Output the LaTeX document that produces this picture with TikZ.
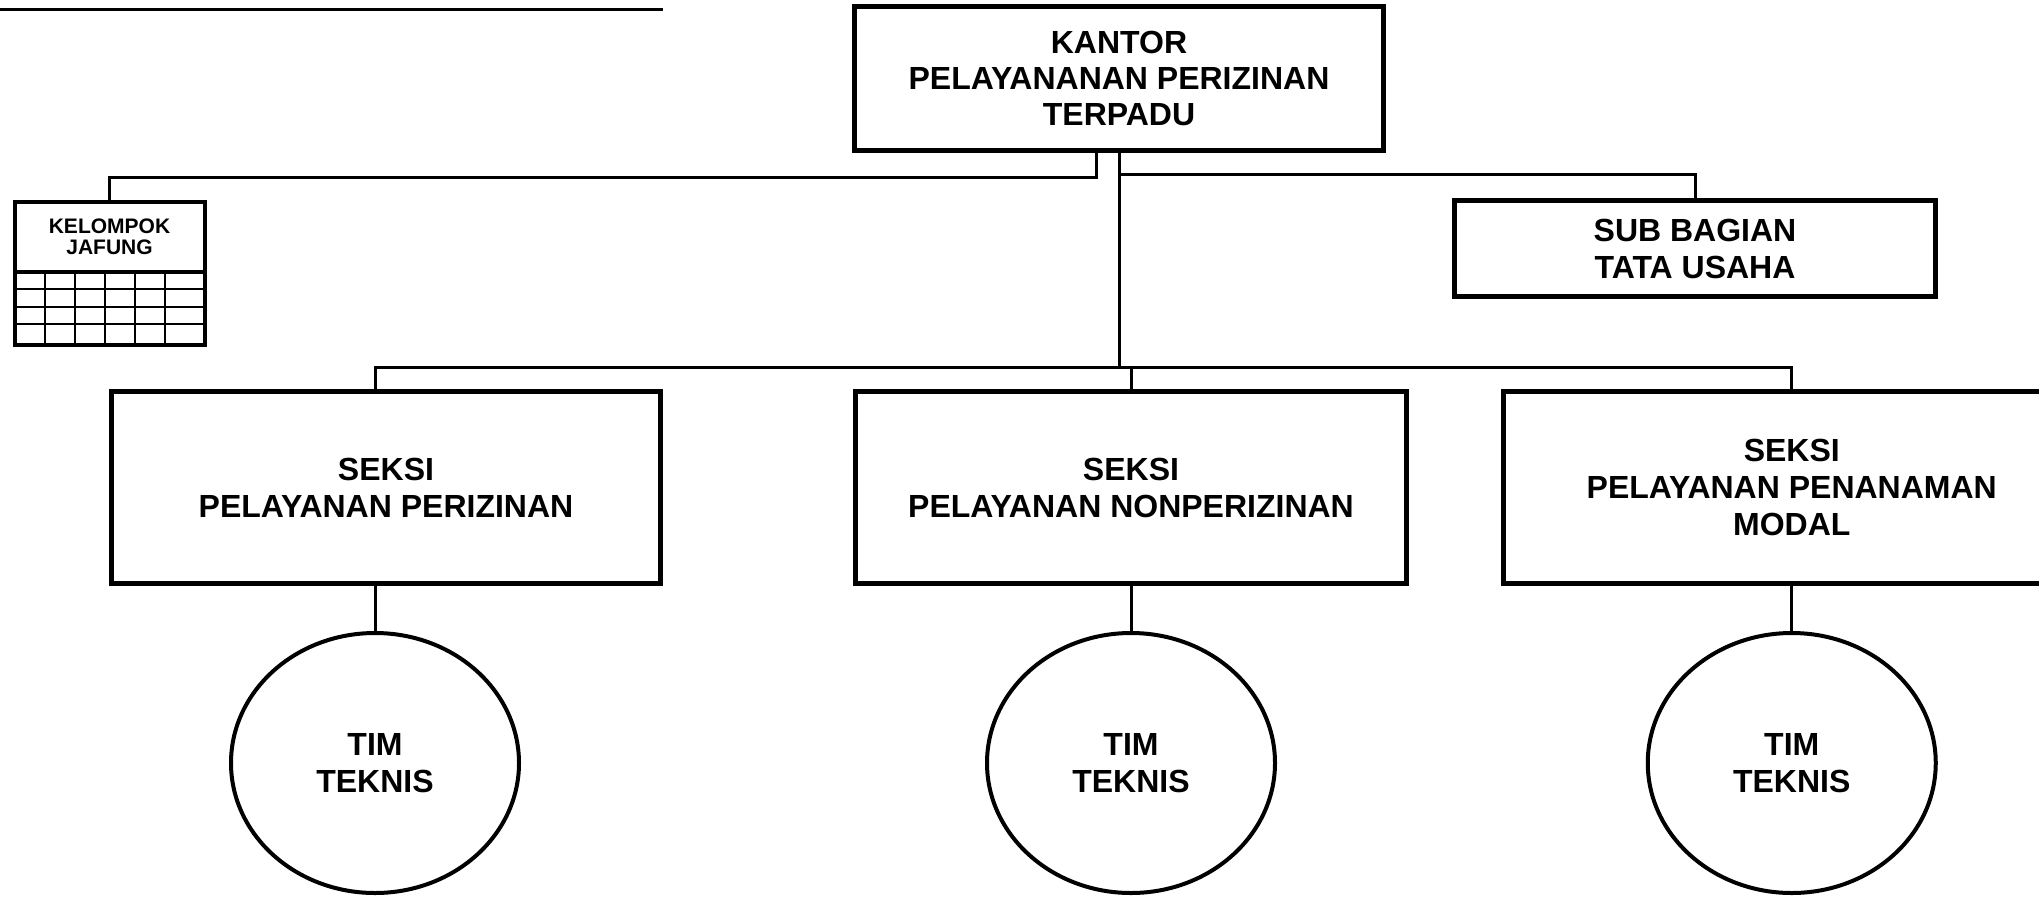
\documentclass[tikz,border=0pt]{standalone}
\usepackage{fontspec}
\setmainfont{Liberation Sans}[BoldFont={Liberation Sans Bold}]
\usetikzlibrary{shapes.geometric}
\begin{document}
\begin{tikzpicture}[x=1pt,y=-1pt,
  orgbox/.style={draw, rectangle, line width=5pt, inner sep=0pt, outer sep=0pt, align=center,
    font=\fontsize{32}{37}\selectfont\bfseries},
  conn/.style={line width=3pt},
  gridline/.style={line width=2pt},
  tim/.style={draw, ellipse, line width=4pt, inner sep=0pt, outer sep=0pt,
    minimum width=288pt, minimum height=260pt, align=center,
    font=\fontsize{32}{37}\selectfont\bfseries}
]
\useasboundingbox (0,0) rectangle (2039,897);
\fill[white] (0,0) rectangle (2039,897);
\clip (0,0) rectangle (2039,897);

% top-left rule
\coordinate (tl0) at (0,9);
\coordinate (tl1) at (663,9);
\draw[line width=3pt] (tl0) -- (tl1);

% main boxes
\node[orgbox, minimum width=529pt, minimum height=144pt, font=\fontsize{32}{36}\selectfont\bfseries] (kantor) at (1119,78)
  {KANTOR\\PELAYANANAN PERIZINAN\\TERPADU};
\node[orgbox, minimum width=481pt, minimum height=96pt] (subbag) at (1695,248.5)
  {SUB BAGIAN\\TATA USAHA};

% kelompok jafung
\node[draw, rectangle, line width=4pt, inner sep=0pt, outer sep=0pt, minimum width=190pt, minimum height=70pt,
  align=center, font=\fontsize{21}{21.5}\selectfont\bfseries] (jafung) at (109.5,237) {KELOMPOK\\JAFUNG};
\node[draw, rectangle, line width=4pt, inner sep=0pt, outer sep=0pt, minimum width=190pt, minimum height=73pt,
  anchor=north] (jgrid) at (jafung.south) {};
\foreach \yy in {289,307,324} \draw[gridline] (jgrid.west |- 0,\yy) -- (jgrid.east |- 0,\yy);
\foreach \xx in {45,75,105,135,165} \draw[gridline] (\xx,272) -- (\xx,345);

% seksi boxes
\node[orgbox, minimum width=549pt, minimum height=192pt] (s1) at (386,487.5)
  {SEKSI\\PELAYANAN PERIZINAN};
\node[orgbox, minimum width=551pt, minimum height=192pt] (s2) at (1131,487.5)
  {SEKSI\\PELAYANAN NONPERIZINAN};
\node[orgbox, minimum width=577pt, minimum height=192pt] (s3) at (1791.75,487.5)
  {SEKSI\\PELAYANAN PENANAMAN\\MODAL};

% tim teknis
\node[tim] (t1) at (375,763) {TIM\\TEKNIS};
\node[tim] (t2) at (1131,763) {TIM\\TEKNIS};
\node[tim] (t3) at (1791.75,763) {TIM\\TEKNIS};

% connectors
\coordinate (s1top) at ([xshift=-11pt]s1.north);
\draw[conn] (kantor.south) -- ++(0,217);
\draw[conn] (kantor.south) ++(0,24) -| (subbag.north);
\draw[conn] ([xshift=-23pt]kantor.south) -- ++(0,27) -| (jafung.north);
\draw[conn] (s1top) -- ++(0,-24.5) -| (s3.north);
\draw[conn] (s2.north) -- ++(0,-24.5);
\draw[conn] (t1.north |- s1.south) -- (t1.north);
\draw[conn] (s2.south) -- (t2.north);
\draw[conn] (s3.south) -- (t3.north);
\end{tikzpicture}
\end{document}
